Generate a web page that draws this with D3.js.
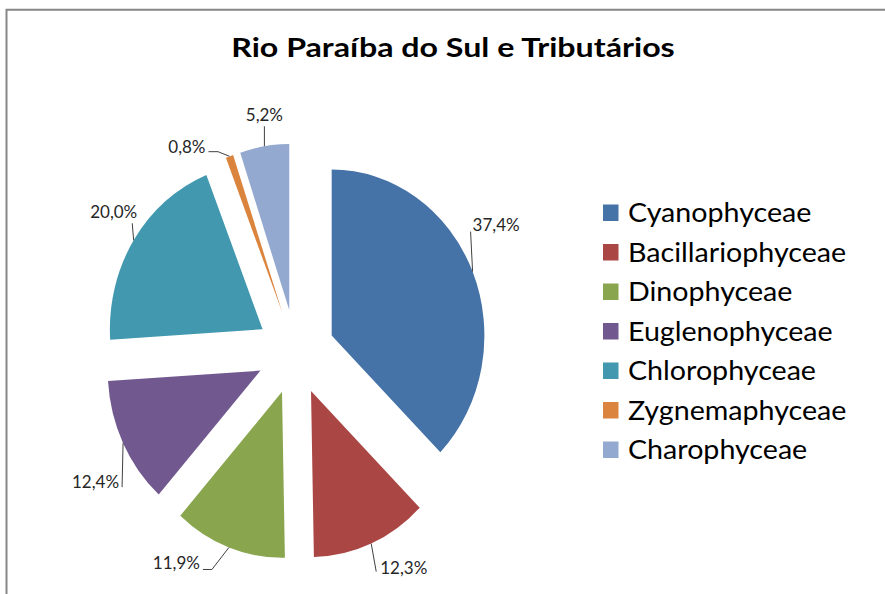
<!DOCTYPE html>
<html lang="pt">
  <head>
    <meta charset="utf-8">
    <title>Rio Paraíba do Sul e Tributários</title>
    <script src="https://d3js.org/d3.v7.min.js"></script>
    <style>
      body { margin: 0; background: #fff; }
      text { font-family: Lato, "Open Sans", sans-serif; }
    </style>
  </head>
  <body>
    <div id="chart"></div>
    <script>
    // data
    var classes = ["Cyanophyceae", "Bacillariophyceae", "Dinophyceae", "Euglenophyceae",
                   "Chlorophyceae", "Zygnemaphyceae", "Charophyceae"];
    var percents = [37.4, 12.3, 11.9, 12.4, 20.0, 0.8, 5.2];
    var colours = ["#4572a7", "#aa4643", "#89a54e", "#71588f", "#4198af", "#db843d", "#93a9cf"];

    // leader line bends (relative to the point on the arc) and label side, one per slice
    var leaders = [
      {pts: [[-2, -40]], anchor: "start", dx: 2, dy: -7},
      {pts: [[5, 28]], anchor: "start", dx: 4, dy: -4},
      {pts: [[-17, 22], [-26, 22]], anchor: "end", dx: -3, dy: -6},
      {pts: [[-1, 44]], anchor: "end", dx: -3, dy: -5},
      {pts: [[-1.4, -17]], anchor: "end", dx: 5, dy: -11},
      {pts: [[-11.5, -4.6], [-21, -4.6]], anchor: "end", dx: -3, dy: -5},
      {pts: [[0, -20]], anchor: "middle", dx: 0, dy: -11.5}
    ];

    var width = 885, height = 594;
    var squeeze = 0.92;          // the picture is narrower than it is tall
    var radius = 166, explode = 42.5;
    var cx = 295.6, cy = 352;

    var svg = d3.select("#chart").append("svg")
      .attr("width", width)
      .attr("height", height);

    // chart frame
    svg.append("path")
      .attr("d", "M6.5," + height + "V9.8H" + width)
      .attr("fill", "none")
      .attr("stroke", "#878787")
      .attr("stroke-width", 2);

    // title
    svg.append("text")
      .attr("transform", "translate(453,57.3) scale(1.17,1)")
      .attr("text-anchor", "middle")
      .attr("font-size", "27.5px")
      .attr("font-weight", "bold")
      .attr("fill", "#000")
      .text("Rio Paraíba do Sul e Tributários");

    var pie = d3.pie().sort(null).value(function(d){ return d; });
    var arcs = pie(percents);
    var arc = d3.arc().innerRadius(0).outerRadius(radius);

    var mid = function(d){ return (d.startAngle + d.endAngle) / 2; };

    var g = svg.append("g")
      .attr("transform", "translate(" + cx + "," + cy + ") scale(" + squeeze + ",1)");

    g.selectAll("path")
      .data(arcs)
      .enter()
      .append("path")
        .attr("transform", function(d){
          var a = mid(d);
          return "translate(" + (explode * Math.sin(a)) + "," + (-explode * Math.cos(a)) + ")";
        })
        .attr("d", arc)
        .attr("fill", function(d, i){ return colours[i]; });

    // point on the outer arc at the middle of each slice, in page coords
    var edge = function(d){
      var a = mid(d), r = explode + radius;
      return [cx + squeeze * r * Math.sin(a), cy - r * Math.cos(a)];
    };

    var fmt = d3.formatLocale({decimal: ",", thousands: ".", grouping: [3], currency: ["", ""]}).format(".1f");

    var labels = svg.append("g");
    arcs.forEach(function(d, i){
      var o = edge(d), L = leaders[i];
      var pts = [o].concat(L.pts.map(function(p){ return [o[0] + p[0], o[1] + p[1]]; }));
      var end = pts[pts.length - 1];
      labels.append("path")
        .attr("d", d3.line()(pts))
        .attr("fill", "none")
        .attr("stroke", "#404040")
        .attr("stroke-width", 1);
      labels.append("text")
        .attr("transform", "translate(" + (end[0] + L.dx) + "," + (end[1] + L.dy) + ") scale(1,1)")
        .attr("text-anchor", L.anchor)
        .attr("dy", "0.35em")
        .attr("font-size", "17px")
        .attr("fill", "#262626")
        .text(fmt(percents[i]) + "%");
    });

    // legend
    var legend = svg.append("g").attr("transform", "translate(603,213)");
    var rows = legend.selectAll("g")
      .data(classes)
      .enter()
      .append("g")
        .attr("transform", function(d, i){ return "translate(0," + (i * 39.5) + ")"; });
    rows.append("rect")
      .attr("x", 0)
      .attr("y", -8.5)
      .attr("width", 15.5)
      .attr("height", 16.5)
      .attr("fill", function(d, i){ return colours[i]; });
    rows.append("text")
      .attr("transform", "translate(25,9) scale(1.08,1)")
      .attr("font-size", "26.5px")
      .attr("fill", "#000")
      .text(function(d){ return d; });
    </script>
  </body>
</html>
